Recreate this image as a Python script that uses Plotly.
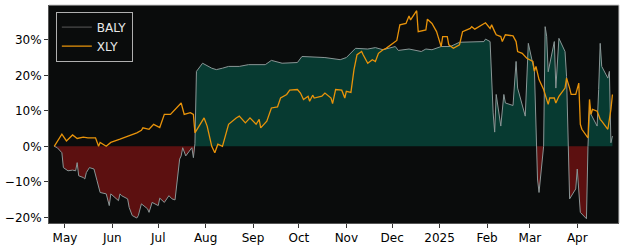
import pandas as pd
import numpy as np
import plotly.graph_objects as go

# ---- data (cumulative return, %) ----
baly_dates = ["2024-04-24","2024-04-26","2024-04-29","2024-04-30","2024-05-03","2024-05-06","2024-05-08","2024-05-09",
              "2024-05-10","2024-05-13","2024-05-14","2024-05-15","2024-05-17","2024-05-20","2024-05-22","2024-05-24",
              "2024-05-28","2024-05-30","2024-05-31","2024-06-03","2024-06-05","2024-06-06","2024-06-07","2024-06-11",
              "2024-06-12","2024-06-14","2024-06-17","2024-06-18","2024-06-20","2024-06-24","2024-06-25","2024-06-27",
              "2024-07-01","2024-07-02","2024-07-05","2024-07-08","2024-07-10","2024-07-12","2024-07-15","2024-07-16",
              "2024-07-17","2024-07-19","2024-07-22","2024-07-23","2024-07-24","2024-07-25","2024-07-26","2024-07-30",
              "2024-08-05","2024-08-07","2024-08-08","2024-08-12","2024-08-16","2024-08-23","2024-08-29","2024-09-09",
              "2024-09-13","2024-09-20","2024-09-30","2024-10-03","2024-10-10","2024-10-18","2024-10-28","2024-11-01",
              "2024-11-07","2024-11-15","2024-11-20","2024-11-25","2024-12-03","2024-12-05","2024-12-12","2024-12-20",
              "2024-12-23","2024-12-27","2025-01-02","2025-01-08","2025-01-14","2025-01-22","2025-01-27","2025-01-30",
              "2025-01-31","2025-02-03","2025-02-05","2025-02-06","2025-02-07","2025-02-10","2025-02-12","2025-02-13",
              "2025-02-18","2025-02-20","2025-02-21","2025-02-26","2025-02-28","2025-03-04","2025-03-06","2025-03-07",
              "2025-03-10","2025-03-11","2025-03-12","2025-03-13","2025-03-17","2025-03-18","2025-03-20","2025-03-24",
              "2025-03-25","2025-03-26","2025-03-27","2025-03-31","2025-04-01","2025-04-03","2025-04-07","2025-04-08",
              "2025-04-09","2025-04-10","2025-04-14","2025-04-15","2025-04-16","2025-04-17","2025-04-21","2025-04-22",
              "2025-04-23","2025-04-24"]
baly = [0.0, -0.4, -1.8, -6.0, -6.9, -6.7, -6.9, -4.6,
        -8.3, -8.8, -9.2, -7.4, -6.0, -6.4, -9.7, -13.0,
        -13.4, -16.7, -13.4, -14.4, -15.3, -13.4, -13.9, -14.8,
        -17.2, -19.5, -20.2, -19.5, -16.2, -17.6, -18.6, -15.8,
        -16.7, -14.6, -15.8, -13.9, -14.8, -15.1, -3.6, -2.7,
        -0.4, -2.7, -0.8, -0.4, -3.2, 0.7, 21.1, 23.4,
        22.0, 21.8, 21.6, 22.0, 22.5, 22.5, 23.0, 23.0,
        24.2, 23.4, 23.6, 25.3, 25.1, 25.0, 24.4, 25.0,
        27.6, 27.4, 27.8, 27.2, 28.1, 27.0, 27.4, 26.7,
        27.4, 27.2, 28.1, 28.1, 29.3, 29.3, 29.5, 29.5,
        30.2, 29.5, 9.4, 4.0, 14.6, 5.7, 14.6, 12.2,
        11.5, 23.9, 16.4, 8.5, 29.0, 21.1, -9.2, -13.0,
        0.0, 33.7, 31.0, 21.0, 29.5, 16.4, 30.4, 26.7,
        19.7, 0.0, -14.8, -12.0, -6.4, -18.6, -20.4, 0.0,
        10.4, 9.0, 5.7, 16.0, 29.0, 22.5, 19.2, 21.1,
        1.0, 2.9]

xly_dates = ["2024-04-24","2024-04-29","2024-05-02","2024-05-06","2024-05-09","2024-05-13","2024-05-16","2024-05-21",
             "2024-05-23","2024-05-24","2024-05-28","2024-05-31","2024-06-06","2024-06-12","2024-06-17","2024-06-20",
             "2024-06-21","2024-06-25","2024-06-28","2024-07-02","2024-07-05","2024-07-09","2024-07-11","2024-07-12",
             "2024-07-16","2024-07-18","2024-07-22","2024-07-24","2024-07-25","2024-07-29","2024-07-31","2024-08-02",
             "2024-08-05","2024-08-07","2024-08-09","2024-08-12","2024-08-14","2024-08-16","2024-08-21","2024-08-23",
             "2024-08-27","2024-08-30","2024-09-03","2024-09-05","2024-09-06","2024-09-10","2024-09-13","2024-09-17",
             "2024-09-19","2024-09-23","2024-09-25","2024-09-30","2024-10-02","2024-10-04","2024-10-07","2024-10-08",
             "2024-10-10","2024-10-11","2024-10-16","2024-10-18","2024-10-22","2024-10-23","2024-10-25","2024-10-29",
             "2024-10-31","2024-11-01","2024-11-04","2024-11-06","2024-11-08","2024-11-11","2024-11-12","2024-11-15",
             "2024-11-18","2024-11-20","2024-11-22","2024-11-25","2024-11-27","2024-12-02","2024-12-04","2024-12-06",
             "2024-12-10","2024-12-12","2024-12-13","2024-12-17","2024-12-18","2024-12-23","2024-12-24","2024-12-27",
             "2024-12-30","2024-12-31","2025-01-02","2025-01-03","2025-01-06","2025-01-07","2025-01-10","2025-01-14",
             "2025-01-16","2025-01-21","2025-01-22","2025-01-24","2025-01-27","2025-01-29","2025-01-31","2025-02-03",
             "2025-02-04","2025-02-06","2025-02-07","2025-02-10","2025-02-11","2025-02-13","2025-02-18","2025-02-20",
             "2025-02-21","2025-02-24","2025-02-27","2025-03-03","2025-03-04","2025-03-05","2025-03-07","2025-03-10",
             "2025-03-12","2025-03-13","2025-03-14","2025-03-17","2025-03-18","2025-03-20","2025-03-24","2025-03-25",
             "2025-03-27","2025-03-28","2025-03-31","2025-04-02","2025-04-03","2025-04-04","2025-04-08","2025-04-09",
             "2025-04-10","2025-04-11","2025-04-14","2025-04-16","2025-04-17","2025-04-21","2025-04-23","2025-04-24"]
xly = [0.0, 3.4, 1.5, 3.2, 2.2, 2.6, 2.4, 2.4,
       0.0, 1.1, 0.0, 1.1, 2.0, 2.9, 3.8, 4.5,
       5.2, 4.8, 6.2, 5.3, 9.0, 9.0, 9.9, 10.4,
       12.2, 9.0, 9.5, 9.0, 3.8, 6.6, 8.0, 5.7,
       0.0, -1.8, 0.6, 0.0, 2.9, 6.2, 8.0, 8.5,
       6.6, 8.0, 6.2, 7.6, 5.2, 7.1, 10.8, 11.1,
       13.6, 14.6, 15.8, 16.0, 15.0, 13.2, 14.1, 12.7,
       14.4, 13.6, 14.1, 15.0, 13.6, 12.0, 16.0, 15.8,
       13.6, 15.5, 15.2, 21.6, 25.8, 26.7, 25.8, 23.4,
       24.4, 23.9, 26.2, 27.2, 27.6, 29.0, 29.8, 34.2,
       34.6, 36.7, 35.6, 38.2, 32.3, 32.8, 35.8, 34.6,
       32.3, 30.9, 28.1, 30.9, 30.9, 28.6, 27.6, 28.6,
       32.3, 33.2, 33.7, 33.0, 33.7, 34.2, 34.8, 33.2,
       34.2, 32.3, 31.4, 30.9, 29.5, 31.4, 31.1, 29.5,
       26.7, 26.2, 24.8, 23.9, 21.1, 22.5, 18.8, 16.0,
       13.6, 11.8, 13.6, 13.6, 12.2, 14.1, 16.4, 19.2,
       16.4, 14.6, 14.6, 17.8, 6.2, 4.8, 2.4, 13.2,
       9.0, 10.4, 9.9, 7.6, 7.1, 4.8, 10.4, 14.6]

month_ticks = ["2024-05-01","2024-06-01","2024-07-01","2024-08-01","2024-09-01","2024-10-01",
               "2024-11-01","2024-12-01","2025-01-01","2025-02-01","2025-03-01","2025-04-01"]
month_labels = ["May","Jun","Jul","Aug","Sep","Oct","Nov","Dec","2025","Feb","Mar","Apr"]
y_ticks = [-20, -10, 0, 10, 20, 30]
y_labels = ["\u221220%", "\u221210%", "0%", "10%", "20%", "30%"]

# ---- split BALY into positive / negative fill parts ----
t = pd.to_datetime(pd.Series(baly_dates))
v = np.array(baly, dtype=float)
fx, fy = [], []
for i in range(len(v)):
    if i > 0 and v[i-1] * v[i] < 0:
        frac = v[i-1] / (v[i-1] - v[i])
        fx.append(t[i-1] + (t[i] - t[i-1]) * frac)
        fy.append(0.0)
    fx.append(t[i]); fy.append(v[i])
fy = np.array(fy)
pos = np.maximum(fy, 0)
neg = np.minimum(fy, 0)

GREEN = "#073a31"
RED = "#5c1010"
BG = "#0a0c0c"

fig = go.Figure()
fig.add_trace(go.Scatter(x=fx, y=pos, mode="lines", line=dict(width=0), fill="tozeroy",
                         fillcolor=GREEN, showlegend=False, hoverinfo="skip"))
fig.add_trace(go.Scatter(x=fx, y=neg, mode="lines", line=dict(width=0), fill="tozeroy",
                         fillcolor=RED, showlegend=False, hoverinfo="skip"))
fig.add_trace(go.Scatter(x=baly_dates, y=baly, mode="lines", line=dict(color="#8a9696", width=1),
                         showlegend=False))
fig.add_trace(go.Scatter(x=xly_dates, y=xly, mode="lines", line=dict(color="#e8930a", width=1.3),
                         showlegend=False))
# legend entries
fig.add_trace(go.Scatter(x=[None], y=[None], mode="lines", line=dict(color="#4a4a4a", width=1.3), name="BALY"))
fig.add_trace(go.Scatter(x=[None], y=[None], mode="lines", line=dict(color="#e8930a", width=1.3), name="XLY"))

fig.update_layout(
    width=625, height=250,
    margin=dict(l=46, r=6, t=5, b=26),
    paper_bgcolor="white", plot_bgcolor=BG,
    font=dict(family="DejaVu Sans", size=12, color="black"),
    legend=dict(x=0.012, y=0.97, xanchor="left", yanchor="top",
                bgcolor="#0a0c0c", bordercolor="#b0b0b0", borderwidth=1,
                font=dict(color="#e8e8e8", size=12), tracegroupgap=0, itemwidth=30),
    showlegend=True,
)
fig.update_xaxes(range=["2024-04-20 14:00", "2025-04-28 07:00"], tickvals=month_ticks, ticktext=month_labels,
                 showgrid=False, zeroline=False, ticks="outside", ticklen=4, tickcolor="#333",
                 showline=True, linecolor="#555", linewidth=1)
fig.update_yaxes(range=[-21.6, 39.8], tickvals=y_ticks, ticktext=y_labels, showgrid=False, zeroline=False,
                 ticks="outside", ticklen=4, tickcolor="#333",
                 showline=True, linecolor="#555", linewidth=1)
fig.add_shape(type="line", xref="paper", yref="paper", x0=0, x1=1, y0=1, y1=1, line=dict(color="#c8c8c8", width=1))
fig.add_shape(type="line", xref="paper", yref="paper", x0=1, x1=1, y0=0, y1=1, line=dict(color="#c8c8c8", width=1))

fig.write_html("out.html")
